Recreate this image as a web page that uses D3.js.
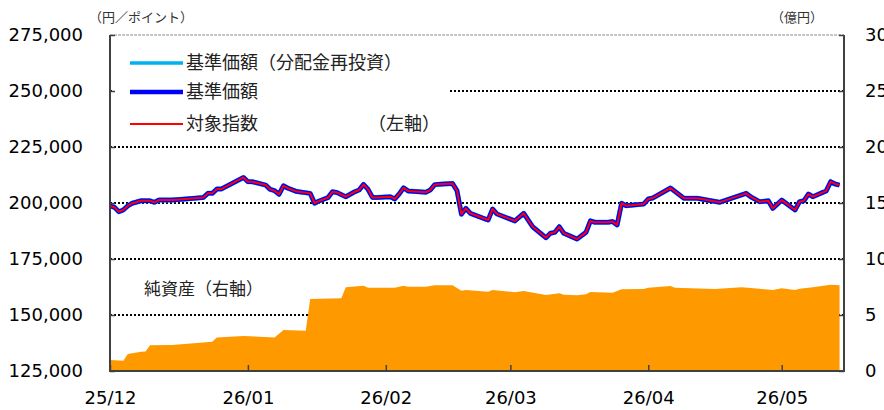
<!DOCTYPE html>
<html>
<head>
<meta charset="utf-8">
<script src="https://cdn.jsdelivr.net/npm/d3@7"></script>
<style>
  html, body { margin: 0; padding: 0; background: #fff; }
  svg { display: block; }
</style>
</head>
<body>
<figure id="chart" style="margin:0"></figure>
<script>
// NAV / index data (left axis, yen/points)
const navDates = [
  '2025-12-01', '2025-12-02', '2025-12-03', '2025-12-04', '2025-12-05', '2025-12-06', '2025-12-08',
  '2025-12-10', '2025-12-11', '2025-12-12', '2025-12-15', '2025-12-18', '2025-12-22', '2025-12-23',
  '2025-12-24', '2025-12-25', '2025-12-26', '2025-12-31', '2026-01-01', '2026-01-02', '2026-01-05',
  '2026-01-06', '2026-01-07', '2026-01-08', '2026-01-09', '2026-01-10', '2026-01-12', '2026-01-15',
  '2026-01-16', '2026-01-17', '2026-01-19', '2026-01-20', '2026-01-21', '2026-01-23', '2026-01-25',
  '2026-01-26', '2026-01-27', '2026-01-28', '2026-01-29', '2026-01-30', '2026-02-02', '2026-02-03',
  '2026-02-04', '2026-02-05', '2026-02-06', '2026-02-10', '2026-02-11', '2026-02-12', '2026-02-13',
  '2026-02-16', '2026-02-17', '2026-02-18', '2026-02-19', '2026-02-20', '2026-02-24', '2026-02-25',
  '2026-02-26', '2026-03-02', '2026-03-04', '2026-03-06', '2026-03-09', '2026-03-10', '2026-03-11',
  '2026-03-12', '2026-03-13', '2026-03-16', '2026-03-18', '2026-03-19', '2026-03-20', '2026-03-23',
  '2026-03-24', '2026-03-25', '2026-03-26', '2026-03-27', '2026-03-31', '2026-04-01', '2026-04-02',
  '2026-04-06', '2026-04-09', '2026-04-12', '2026-04-17', '2026-04-23', '2026-04-24', '2026-04-26',
  '2026-04-28', '2026-04-29', '2026-05-01', '2026-05-04', '2026-05-05', '2026-05-06', '2026-05-07',
  '2026-05-08', '2026-05-11', '2026-05-12', '2026-05-13', '2026-05-14'
];
const navValues = [
  198700, 198100, 196100, 196900, 198700, 199900, 201000,
  201000, 200300, 201300, 201300, 201800, 202500, 204300,
  204300, 206200, 206200, 211400, 209500, 209500, 208000,
  206100, 205500, 203900, 207700, 206600, 205100, 204300,
  199900, 200900, 202400, 205000, 204700, 202800, 205000,
  205800, 208300, 206100, 202500, 202500, 202800, 201800,
  204000, 206800, 205400, 204800, 205800, 208200, 208400,
  208700, 205500, 195000, 197600, 195400, 192400, 197300,
  195100, 192000, 195400, 189400, 184500, 186500, 186900,
  189400, 186500, 183900, 186900, 192000, 191400, 191400,
  191700, 190200, 199900, 198800, 199600, 201800, 202200,
  206700, 202100, 202100, 200300, 204300, 202800, 200600,
  201000, 197600, 201300, 196900, 200600, 201000, 204000,
  202800, 205400, 209500, 208500, 208000
];
const reinvestValues = navValues; // 分配金再投資 (no distributions, same as NAV)
const indexValues = navValues;    // 対象指数 (tracks NAV on this scale)

// net assets (right axis, 100 million yen)
const assetDates = [
  '2025-12-01', '2025-12-04', '2025-12-05', '2025-12-08', '2025-12-09', '2025-12-10', '2025-12-15',
  '2025-12-24', '2025-12-25', '2025-12-31', '2026-01-07', '2026-01-09', '2026-01-14', '2026-01-15',
  '2026-01-22', '2026-01-23', '2026-01-27', '2026-01-28', '2026-02-03', '2026-02-05', '2026-02-06',
  '2026-02-10', '2026-02-12', '2026-02-16', '2026-02-18', '2026-02-19', '2026-02-24', '2026-02-25',
  '2026-03-02', '2026-03-04', '2026-03-09', '2026-03-12', '2026-03-13', '2026-03-16', '2026-03-18',
  '2026-03-19', '2026-03-24', '2026-03-26', '2026-03-31', '2026-04-01', '2026-04-06', '2026-04-07',
  '2026-04-16', '2026-04-22', '2026-04-26', '2026-04-29', '2026-05-01', '2026-05-04', '2026-05-05',
  '2026-05-08', '2026-05-12', '2026-05-14'
];
const assetValues = [
  0.98, 0.92, 1.52, 1.72, 1.75, 2.29, 2.32,
  2.62, 3.0, 3.13, 3.0, 3.66, 3.6, 6.43,
  6.49, 7.47, 7.62, 7.44, 7.44, 7.62, 7.53,
  7.53, 7.65, 7.65, 7.17, 7.23, 7.08, 7.23,
  7.03, 7.14, 6.79, 6.94, 6.81, 6.76, 6.85,
  7.05, 6.99, 7.29, 7.32, 7.44, 7.59, 7.44,
  7.32, 7.47, 7.35, 7.23, 7.38, 7.23, 7.35,
  7.47, 7.71, 7.65
];

const leftTicks = [125000, 150000, 175000, 200000, 225000, 250000, 275000];
const rightTicks = [0, 5, 10, 15, 20, 25, 30];
const monthTicks = ['2025-12-01', '2026-01-01', '2026-02-01', '2026-03-01', '2026-04-01', '2026-05-01'];
const legendItems = [
  {label: '基準価額（分配金再投資）', color: '#00b0f0', width: 3.5},
  {label: '基準価額', color: '#0000ff', width: 4.5},
  {label: '対象指数', color: '#ff0000', width: 2}
];

const width = 884;
const height = 410;
const plot = {left: 110, right: 844, top: 35, bottom: 371};
const parse = d3.timeParse('%Y-%m-%d');
const numFont = '"DejaVu Sans", Verdana, sans-serif';
const jpFont = '"Noto Sans CJK JP", "Noto Sans", sans-serif';

const x = d3.scaleTime()
  .domain([parse('2025-12-01'), parse('2026-05-15')])
  .range([plot.left, plot.right]);
const yL = d3.scaleLinear().domain([125000, 275000]).range([plot.bottom, plot.top]);
const yR = d3.scaleLinear().domain([0, 30]).range([plot.bottom, plot.top]);

const svg = d3.select('figure#chart')
  .append('svg')
  .attr('width', width)
  .attr('height', height)
  .attr('viewBox', `0 0 ${width} ${height}`);

// grid lines (dotted)
svg.append('g')
  .selectAll('line')
  .data(leftTicks.filter(t => t > 125000 && t < 275000))
  .enter().append('line')
  .attr('x1', plot.left)
  .attr('x2', plot.right)
  .attr('y1', d => yL(d))
  .attr('y2', d => yL(d))
  .attr('stroke', '#000')
  .attr('stroke-width', 2)
  .attr('stroke-dasharray', '2,2');

// top border, thin dashed grey
svg.append('line')
  .attr('x1', plot.left)
  .attr('x2', plot.right)
  .attr('y1', plot.top)
  .attr('y2', plot.top)
  .attr('stroke', '#8c8c8c')
  .attr('stroke-width', 1)
  .attr('stroke-dasharray', '3,1');

// net assets area
const assets = assetDates.map((d, i) => ({date: parse(d), value: assetValues[i]}));
svg.append('path')
  .datum(assets)
  .attr('fill', '#ff9900')
  .attr('d', d3.area()
    .x(d => x(d.date))
    .y0(yR(0))
    .y1(d => yR(d.value)));

// legend box hides grid under it
svg.append('rect')
  .attr('x', plot.left + 2)
  .attr('y', plot.top + 3)
  .attr('width', 336)
  .attr('height', 102)
  .attr('fill', '#fff');

// lines
const lineGen = d3.line()
  .x(d => x(d.date))
  .y(d => yL(d.value));
const series = [
  {values: reinvestValues, color: '#00b0f0', width: 5},
  {values: navValues, color: '#0000ff', width: 4.5},
  {values: indexValues, color: '#ff0000', width: 2}
];
series.forEach(s => {
  svg.append('path')
    .datum(navDates.map((d, i) => ({date: parse(d), value: s.values[i]})))
    .attr('fill', 'none')
    .attr('stroke', s.color)
    .attr('stroke-width', s.width)
    .attr('stroke-linejoin', 'round')
    .attr('d', lineGen);
});

// axes frame
const axisColor = '#404040';
svg.append('line')
  .attr('x1', plot.left).attr('x2', plot.left)
  .attr('y1', plot.top).attr('y2', plot.bottom + 1)
  .attr('stroke', axisColor).attr('stroke-width', 2);
svg.append('line')
  .attr('x1', plot.right).attr('x2', plot.right)
  .attr('y1', plot.top).attr('y2', plot.bottom + 1)
  .attr('stroke', axisColor).attr('stroke-width', 2);
svg.append('line')
  .attr('x1', plot.left - 1).attr('x2', plot.right + 1)
  .attr('y1', plot.bottom).attr('y2', plot.bottom)
  .attr('stroke', axisColor).attr('stroke-width', 2);

// left axis
const leftAxis = svg.append('g')
  .attr('transform', `translate(${plot.left},0)`)
  .call(d3.axisLeft(yL).tickValues(leftTicks).tickSize(-5).tickPadding(27)
    .tickFormat(d3.format(',')));
leftAxis.select('.domain').remove();
leftAxis.selectAll('line').attr('stroke', axisColor).attr('stroke-width', 1.5);
leftAxis.selectAll('text')
  .attr('font-family', numFont)
  .attr('font-size', 18)
  .attr('fill', '#000');

// right axis (labels run off the right edge as in the source)
const rightAxis = svg.append('g')
  .attr('transform', `translate(${plot.right},0)`)
  .call(d3.axisRight(yR).tickValues(rightTicks).tickSize(-5).tickPadding(21));
rightAxis.select('.domain').remove();
rightAxis.selectAll('line').attr('stroke', axisColor).attr('stroke-width', 1.5);
rightAxis.selectAll('text')
  .attr('font-family', numFont)
  .attr('font-size', 18)
  .attr('fill', '#000');

// bottom axis
const bottomAxis = svg.append('g')
  .attr('transform', `translate(0,${plot.bottom})`)
  .call(d3.axisBottom(x).tickValues(monthTicks.map(parse)).tickSize(-6).tickPadding(20)
    .tickFormat(d3.timeFormat('%y/%m')));
bottomAxis.select('.domain').remove();
bottomAxis.selectAll('line').attr('stroke', axisColor).attr('stroke-width', 1.5);
bottomAxis.selectAll('text')
  .attr('font-family', numFont)
  .attr('font-size', 18)
  .attr('fill', '#000');

// unit labels
svg.append('text')
  .attr('x', 89).attr('y', 22)
  .attr('font-family', jpFont).attr('font-size', 13).attr('fill', '#333')
  .text('（円／ポイント）');
svg.append('text')
  .attr('x', 771).attr('y', 22)
  .attr('font-family', jpFont).attr('font-size', 13).attr('fill', '#333')
  .text('（億円）');

// legend
const legend = svg.append('g');
legendItems.forEach((item, i) => {
  const ly = [63, 92, 124][i];
  legend.append('line')
    .attr('x1', 130).attr('x2', 183)
    .attr('y1', ly).attr('y2', ly)
    .attr('stroke', item.color)
    .attr('stroke-width', item.width);
  legend.append('text')
    .attr('x', 186).attr('y', ly + 6)
    .attr('font-family', jpFont).attr('font-size', 18).attr('fill', '#222')
    .text(item.label);
});
legend.append('text')
  .attr('x', 368).attr('y', 130)
  .attr('font-family', jpFont).attr('font-size', 18).attr('fill', '#222')
  .text('（左軸）');

svg.append('text')
  .attr('x', 144).attr('y', 295)
  .attr('font-family', jpFont).attr('font-size', 17).attr('fill', '#222')
  .text('純資産（右軸）');
</script>
</body>
</html>
